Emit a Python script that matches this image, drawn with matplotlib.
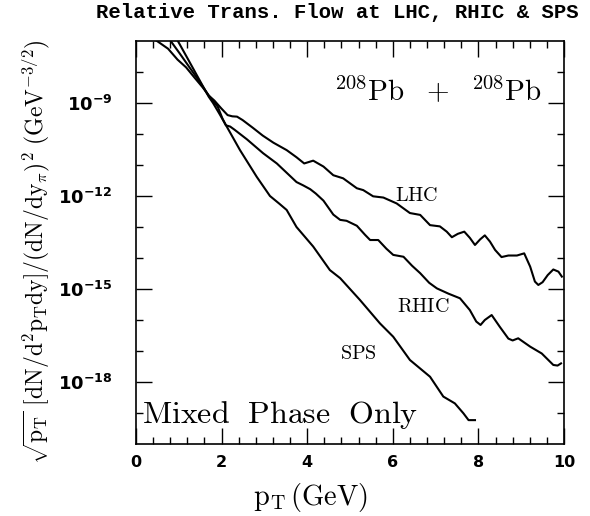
import numpy as np
import matplotlib
matplotlib.use("Agg")
import matplotlib.pyplot as plt
from matplotlib.ticker import FixedLocator, MultipleLocator, NullFormatter

plt.rcParams['mathtext.fontset'] = 'cm'

# ---- data (pT in GeV, log10 of the yield) ----
lhc_pt = [0.47, 0.75, 0.97, 1.17, 1.36, 1.56, 1.70, 1.83, 1.99, 2.14, 2.25, 2.36, 2.49,
          2.73, 2.96, 3.21, 3.52, 3.75, 3.93, 4.14, 4.38, 4.61, 4.84, 5.00, 5.16, 5.31,
          5.54, 5.78, 6.09, 6.40, 6.64, 6.87, 7.10, 7.26, 7.38, 7.52, 7.67, 7.80, 7.92,
          8.04, 8.15, 8.27, 8.39, 8.54, 8.70, 8.90, 9.07, 9.21, 9.32, 9.40, 9.50, 9.62,
          9.75, 9.87, 9.95]
lhc_log10y = [-6.98, -7.25, -7.60, -7.85, -8.17, -8.50, -8.76, -8.92, -9.17, -9.39, -9.43,
              -9.44, -9.55, -9.80, -10.05, -10.28, -10.52, -10.75, -10.95, -10.86, -11.05,
              -11.33, -11.43, -11.59, -11.75, -11.81, -12.01, -12.05, -12.24, -12.55, -12.61,
              -12.94, -12.98, -13.15, -13.33, -13.22, -13.15, -13.35, -13.58, -13.40, -13.27,
              -13.47, -13.74, -13.97, -13.92, -13.92, -13.85, -14.28, -14.76, -14.87, -14.78,
              -14.55, -14.37, -14.44, -14.60]

rhic_pt = [0.80, 1.01, 1.25, 1.48, 1.70, 1.91, 2.02, 2.10, 2.20, 2.30, 2.59, 2.97, 3.29,
           3.52, 3.75, 3.91, 4.07, 4.20, 4.38, 4.61, 4.77, 4.92, 5.16, 5.35, 5.47, 5.66,
           5.85, 6.01, 6.25, 6.45, 6.64, 6.85, 7.03, 7.30, 7.57, 7.80, 7.95, 8.05, 8.15,
           8.31, 8.50, 8.70, 8.80, 8.93, 9.21, 9.48, 9.75, 9.85, 9.93]
rhic_log10y = [-6.98, -7.38, -7.85, -8.30, -8.76, -9.12, -9.50, -9.72, -9.76, -9.86, -10.17,
               -10.62, -10.95, -11.25, -11.55, -11.66, -11.78, -11.92, -12.15, -12.60, -12.77,
               -12.80, -12.96, -13.25, -13.42, -13.42, -13.70, -13.90, -13.96, -14.25, -14.49,
               -14.80, -14.98, -15.15, -15.30, -15.68, -16.05, -16.16, -16.00, -15.84, -16.22,
               -16.60, -16.66, -16.59, -16.86, -17.08, -17.45, -17.47, -17.40]

sps_pt = [0.97, 1.20, 1.42, 1.70, 1.80, 1.95, 2.12, 2.43, 2.82, 3.13, 3.35, 3.52, 3.75,
          4.14, 4.53, 4.77, 5.00, 5.23, 5.70, 6.01, 6.40, 6.87, 7.18, 7.45, 7.65, 7.77, 7.92]
sps_log10y = [-6.98, -7.55, -8.10, -8.80, -9.00, -9.35, -9.76, -10.52, -11.38, -12.00, -12.25,
              -12.45, -13.00, -13.63, -14.39, -14.65, -15.00, -15.35, -16.11, -16.54, -17.29,
              -17.83, -18.47, -18.69, -19.01, -19.23, -19.23]

series_names = ['LHC', 'RHIC', 'SPS']
ytick_major = [1e-18, 1e-15, 1e-12, 1e-9]
ytick_labels = [r'$\mathbf{10^{-18}}$', r'$\mathbf{10^{-15}}$', r'$\mathbf{10^{-12}}$', r'$\mathbf{10^{-9}}$']
ytick_minor = [1e-19, 1e-17, 1e-16, 1e-14, 1e-13, 1e-11, 1e-10, 1e-8]
xtick_major = [0, 2, 4, 6, 8, 10]

W, H = 590, 516
fig = plt.figure(figsize=(W / 100, H / 100), dpi=100)
ax = fig.add_axes([136 / W, 1 - 444 / H, 428 / W, 403 / H])

for xs, ls in [(lhc_pt, lhc_log10y), (rhic_pt, rhic_log10y), (sps_pt, sps_log10y)]:
    ax.plot(xs, 10 ** np.array(ls), color='black', lw=1.5, solid_joinstyle='round')

ax.set_yscale('log')
ax.set_xlim(0, 10)
ax.set_ylim(1e-20, 1e-7)

ax.yaxis.set_major_locator(FixedLocator(ytick_major))
ax.set_yticklabels(ytick_labels, math_fontfamily='dejavusans', fontsize=13)
ax.yaxis.set_minor_locator(FixedLocator(ytick_minor))
ax.yaxis.set_minor_formatter(NullFormatter())
ax.set_xticks(xtick_major)
ax.set_xticklabels([str(v) for v in xtick_major], family='DejaVu Sans', weight='bold', fontsize=11.5)
ax.xaxis.set_minor_locator(MultipleLocator(0.4))

ax.tick_params(which='both', direction='in', top=True, right=True, color='black')
ax.tick_params(which='major', length=11.5, width=1.0)
ax.tick_params(axis='y', which='major', pad=17)
ax.tick_params(axis='x', which='major', pad=8)
ax.tick_params(which='minor', length=4.8, width=1.0)
for sp in ax.spines.values():
    sp.set_linewidth(1.2)

# annotations
ax.text(4.62, 10 ** -8.9, r'$^{208}\mathrm{Pb}\ \ +\ \ ^{208}\mathrm{Pb}$', fontsize=21,
        ha='left', va='baseline')
ax.text(6.05, 10 ** -12.16, r'$\mathrm{LHC}$', fontsize=14.5, ha='left', va='baseline')
ax.text(6.09, 10 ** -15.73, r'$\mathrm{RHIC}$', fontsize=14.5, ha='left', va='baseline')
ax.text(4.77, 10 ** -17.26, r'$\mathrm{SPS}$', fontsize=14.5, ha='left', va='baseline')
ax.text(0.14, 10 ** -19.32, r'$\mathrm{Mixed\ \ Phase\ \ Only}$', fontsize=23, ha='left', va='baseline')

fig.text(337 / W, 1 - 18 / H, 'Relative Trans. Flow at LHC, RHIC & SPS',
         family='Liberation Mono', weight='bold', fontsize=14.9, ha='center', va='baseline')
fig.text(36 / W, 1 - 252 / H,
         r'$\sqrt{\mathrm{p_T}}\ [\mathrm{dN/d^2p_Tdy}]/(\mathrm{dN/dy_\pi})^2\ (\mathrm{GeV}^{-3/2})$',
         rotation=90, ha='center', va='center', fontsize=17)
fig.text(311 / W, 1 - 497 / H, r'$\mathrm{p_T\,(GeV)}$', ha='center', va='center', fontsize=20.5)

fig.savefig('out.png', dpi=100)
